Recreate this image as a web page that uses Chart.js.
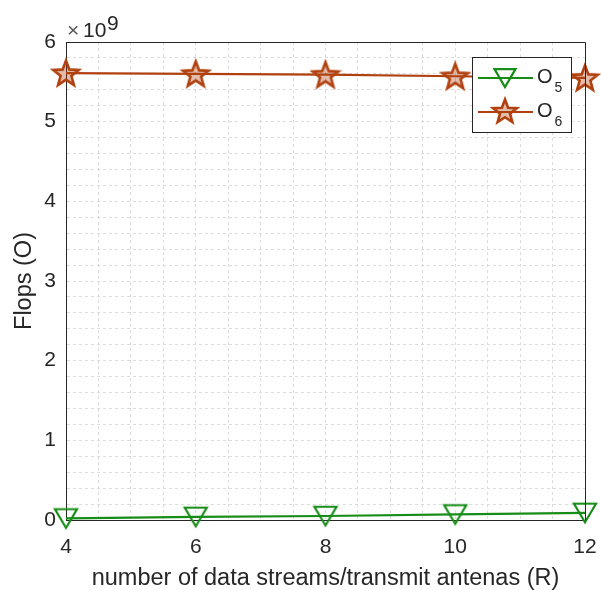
<!DOCTYPE html>
<html>
<head>
<meta charset="utf-8">
<script src="https://cdn.jsdelivr.net/npm/chart.js@4"></script>
<style>
  html, body { margin: 0; padding: 0; background: #fff; }
  #wrap { width: 601px; height: 590px; }
</style>
</head>
<body>
<div id="wrap"><canvas id="flops-chart" width="601" height="590"></canvas></div>
<script>
// data (values in units of 1e9 flops)
const streams = [4, 6, 8, 10, 12];
const o5Values = [0.02, 0.04, 0.05, 0.07, 0.09];
const o6Values = [5.61, 5.60, 5.59, 5.57, 5.55];
const seriesNames = ["O_5", "O_6"];
const xMajorTicks = [4, 6, 8, 10, 12];
const yMajorTicks = [0, 1, 2, 3, 4, 5, 6];

const GREEN = "#178c17";
const BROWN = "#b0410f";
const TEXT = "#262626";
const FONT = "'Liberation Sans', Arial, sans-serif";

function drawStar(ctx, cx, cy, r) {
  ctx.beginPath();
  for (let i = 0; i < 10; i++) {
    const rad = i % 2 === 0 ? r : r * 0.42;
    const a = -Math.PI / 2 + (i * Math.PI) / 5;
    const px = cx + rad * Math.cos(a);
    const py = cy + rad * Math.sin(a);
    if (i === 0) ctx.moveTo(px, py);
    else ctx.lineTo(px, py);
  }
  ctx.closePath();
  ctx.fillStyle = "rgba(176,65,15,0.35)";
  ctx.fill();
  ctx.lineWidth = 2.6;
  ctx.strokeStyle = BROWN;
  ctx.stroke();
}

function drawTriangle(ctx, cx, cy, r) {
  ctx.beginPath();
  ctx.moveTo(cx - r, cy - r * 0.75);
  ctx.lineTo(cx + r, cy - r * 0.75);
  ctx.lineTo(cx, cy + r * 0.95);
  ctx.closePath();
  ctx.lineWidth = 2.2;
  ctx.strokeStyle = GREEN;
  ctx.stroke();
}

const starImg = document.createElement("canvas");
starImg.width = 32;
starImg.height = 32;
drawStar(starImg.getContext("2d"), 16, 17, 13.5);

const triImg = document.createElement("canvas");
triImg.width = 28;
triImg.height = 26;
drawTriangle(triImg.getContext("2d"), 14, 12, 11);

const isMajor = (v, list) => list.some((t) => Math.abs(v - t) < 1e-6);

const extrasPlugin = {
  id: "extras",
  afterDraw(chart) {
    const ctx = chart.ctx;
    const a = chart.chartArea;
    ctx.save();
    // box top/right
    ctx.strokeStyle = TEXT;
    ctx.lineWidth = 1;
    ctx.beginPath();
    ctx.moveTo(a.left, a.top + 0.5);
    ctx.lineTo(a.right + 0.5, a.top + 0.5);
    ctx.lineTo(a.right + 0.5, a.bottom);
    ctx.stroke();

    // exponent label
    ctx.textBaseline = "alphabetic";
    ctx.textAlign = "left";
    ctx.font = "21px " + FONT;
    ctx.fillStyle = "#555";
    ctx.fillText("\u00d7", 67, 37);
    ctx.fillStyle = TEXT;
    ctx.fillText("10", 83, 37);
    ctx.fillText("9", 107, 30);

    // legend
    const lx = 472, ly = 57, lw = 99, lh = 75;
    ctx.fillStyle = "#fff";
    ctx.fillRect(lx, ly, lw, lh);
    ctx.strokeStyle = "#262626";
    ctx.lineWidth = 1;
    ctx.strokeRect(lx + 0.5, ly + 0.5, lw, lh);
    const colors = [GREEN, BROWN];
    const rows = [78, 112];
    chart.data.datasets.forEach((ds, i) => {
      const y = rows[i];
      ctx.strokeStyle = colors[i];
      ctx.lineWidth = 2.2;
      ctx.beginPath();
      ctx.moveTo(478, y);
      ctx.lineTo(533, y);
      ctx.stroke();
      if (i === 0) drawTriangle(ctx, 505, y - 1, 10.5);
      else drawStar(ctx, 505, y, 12.5);
      const parts = ds.label.split("_");
      ctx.fillStyle = TEXT;
      ctx.font = "20px " + FONT;
      ctx.fillText(parts[0], 537, y + 5);
      const ow = ctx.measureText(parts[0]).width;
      ctx.font = "14px " + FONT;
      ctx.fillText(parts[1], 537 + ow + 2, y + 14);
    });
    ctx.restore();
  },
};

new Chart(document.getElementById("flops-chart"), {
  type: "line",
  data: {
    datasets: [
      {
        label: seriesNames[0],
        data: streams.map((s, i) => ({ x: s, y: o5Values[i] })),
        borderColor: GREEN,
        borderWidth: 2.2,
        pointStyle: triImg,
        pointRadius: 11,
        fill: false,
      },
      {
        label: seriesNames[1],
        data: streams.map((s, i) => ({ x: s, y: o6Values[i] })),
        borderColor: BROWN,
        borderWidth: 2.2,
        pointStyle: starImg,
        pointRadius: 13,
        fill: false,
      },
    ],
  },
  options: {
    responsive: false,
    animation: false,
    clip: false,
    events: [],
    layout: { padding: { left: 0, right: 16, top: 42, bottom: 0 } },
    plugins: { legend: { display: false }, tooltip: { enabled: false } },
    scales: {
      x: {
        type: "linear",
        min: 4,
        max: 12,
        afterBuildTicks: (s) => {
          const t = [];
          for (let v = 4; v <= 12 + 1e-9; v += 0.5) t.push({ value: v });
          s.ticks = t;
        },
        afterFit: (s) => {
          s.height = 70;
          s.paddingLeft = 0;
          s.paddingRight = 0;
        },
        grid: { color: "#dcdcdc", lineWidth: 1, drawTicks: false },
        border: { color: TEXT, width: 1, dash: [3, 3] },
        ticks: {
          autoSkip: false,
          maxRotation: 0,
          padding: 15,
          color: TEXT,
          font: { family: FONT, size: 21 },
          callback: (v) => (isMajor(v, xMajorTicks) ? String(v) : ""),
        },
        title: {
          display: true,
          text: "number of data streams/transmit antenas (R)",
          color: TEXT,
          font: { family: FONT, size: 23.5, lineHeight: 1 },
          padding: { top: 0, bottom: 0 },
        },
      },
      y: {
        min: 0,
        max: 6,
        afterBuildTicks: (s) => {
          const t = [];
          for (let k = 0; k <= 30; k++) t.push({ value: k * 0.2 });
          s.ticks = t;
        },
        afterFit: (s) => {
          s.width = 66;
          s.paddingTop = 0;
          s.paddingBottom = 0;
        },
        grid: { color: "#dcdcdc", lineWidth: 1, drawTicks: false },
        border: { color: TEXT, width: 1, dash: [3, 3] },
        ticks: {
          autoSkip: false,
          padding: 10,
          color: TEXT,
          font: { family: FONT, size: 21 },
          callback: (v) => (isMajor(v, yMajorTicks) ? String(Math.round(v)) : ""),
        },
        title: {
          display: true,
          text: "Flops (O)",
          color: TEXT,
          font: { family: FONT, size: 23.5, lineHeight: 1 },
          padding: { top: 13, bottom: 0 },
        },
      },
    },
  },
  plugins: [extrasPlugin],
});
</script>
</body>
</html>
